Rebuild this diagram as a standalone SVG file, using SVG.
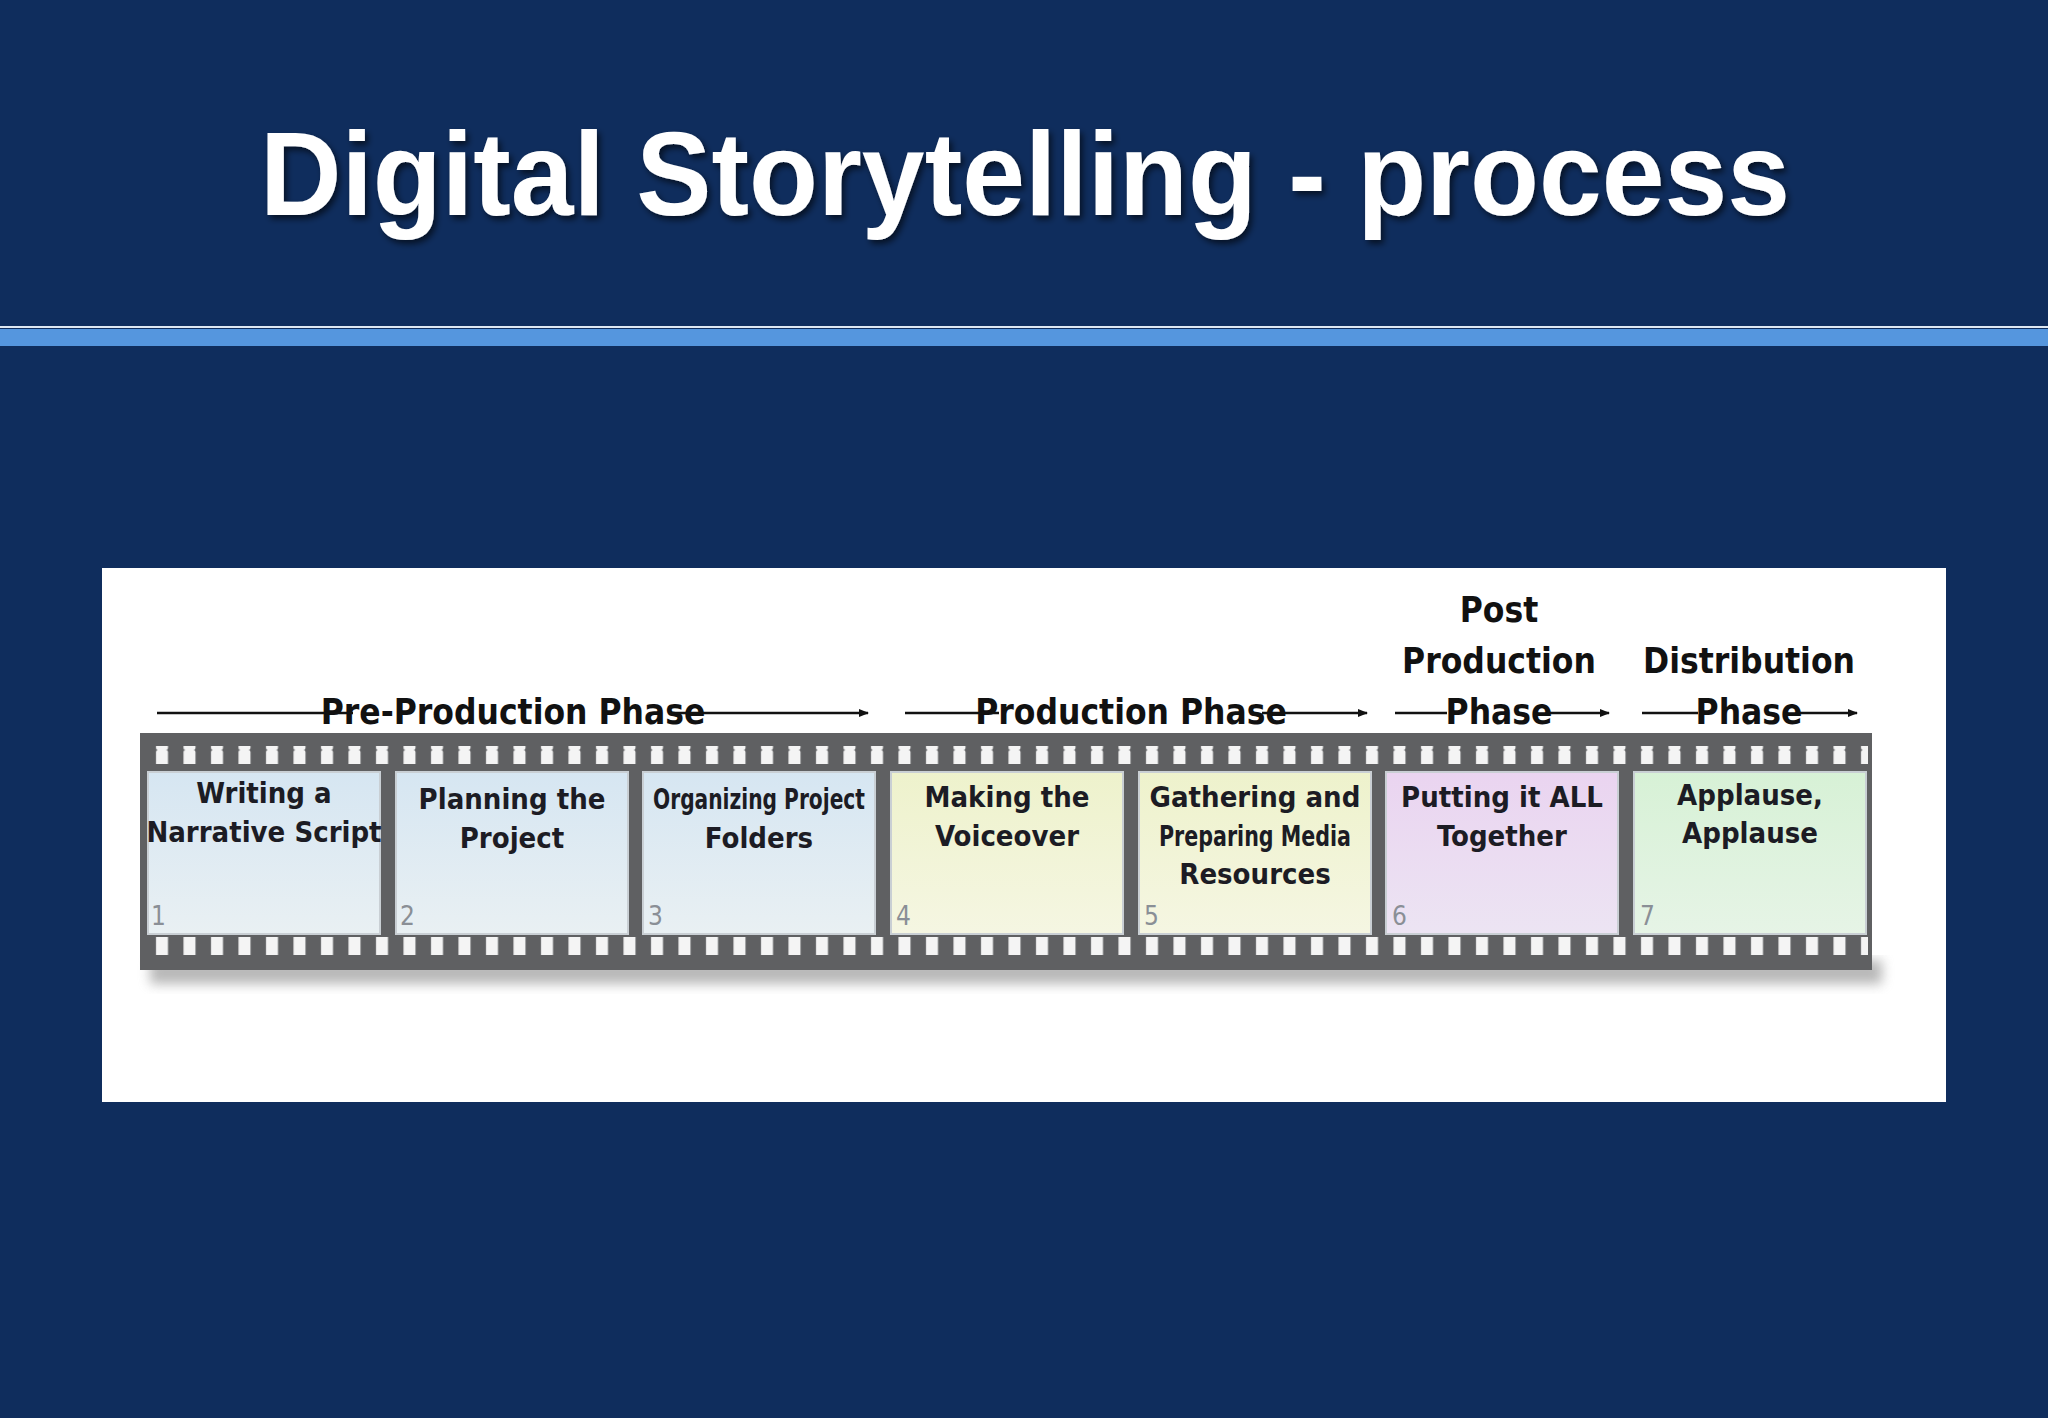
<svg xmlns="http://www.w3.org/2000/svg" width="2048" height="1418" viewBox="0 0 2048 1418">
<defs>
<style>
.t{font-family:"Liberation Sans",Arial,sans-serif;font-weight:bold;fill:#fff}
.c{font-family:"DejaVu Sans Condensed","Liberation Sans Narrow","Liberation Sans",sans-serif;font-weight:bold;fill:#1c1c24;text-anchor:middle;font-size:29px}
.p{font-family:"DejaVu Sans Condensed","Liberation Sans Narrow","Liberation Sans",sans-serif;font-weight:bold;fill:#111;text-anchor:middle;font-size:35px}
.n{font-family:"DejaVu Sans Condensed","Liberation Sans",sans-serif;fill:#8a8f96;font-size:26px}
.ln{stroke:#111;stroke-width:2.5;fill:none}
.fr{stroke:#c9cfd4;stroke-width:2}
</style>
<marker id="ah" markerWidth="10" markerHeight="8" refX="9" refY="4" orient="auto" markerUnits="userSpaceOnUse" viewBox="0 0 10 8">
<path d="M0,0 L10,4 L0,8 z" fill="#111"/>
</marker>
<pattern id="holes" x="148" y="0" width="27.5" height="30" patternUnits="userSpaceOnUse">
<rect x="8" y="0" width="12" height="30" rx="2" fill="#f4f4f4"/>
</pattern>
<linearGradient id="gb" x1="0" y1="0" x2="0" y2="1"><stop offset="0" stop-color="#d6e6f2"/><stop offset="1" stop-color="#e9f0f3"/></linearGradient>
<linearGradient id="gy" x1="0" y1="0" x2="0" y2="1"><stop offset="0" stop-color="#eef2cc"/><stop offset="1" stop-color="#f5f6e2"/></linearGradient>
<linearGradient id="gp" x1="0" y1="0" x2="0" y2="1"><stop offset="0" stop-color="#ead4f0"/><stop offset="1" stop-color="#ece4f3"/></linearGradient>
<linearGradient id="gg" x1="0" y1="0" x2="0" y2="1"><stop offset="0" stop-color="#d7f1d6"/><stop offset="1" stop-color="#e6f4e6"/></linearGradient>
<filter id="sh" x="-5%" y="-20%" width="110%" height="160%"><feGaussianBlur stdDeviation="6"/></filter>
<filter id="ts"><feDropShadow dx="3" dy="4" stdDeviation="3" flood-color="#000" flood-opacity="0.6"/></filter>
</defs>
<rect width="2048" height="1418" fill="#0f2d5d"/>
<text class="t" x="1025" y="215" font-size="118" text-anchor="middle" textLength="1530" lengthAdjust="spacingAndGlyphs" filter="url(#ts)">Digital Storytelling - process</text>
<rect x="0" y="326" width="2048" height="2" fill="#dfe8f2"/>
<rect x="0" y="329" width="2048" height="17" fill="#5596de"/>
<rect x="102" y="568" width="1844" height="534" fill="#fff"/>
<rect x="150" y="960" width="1732" height="24" fill="#8a8a8a" opacity="0.6" filter="url(#sh)"/>
<g id="strip">
<rect x="140" y="733" width="1732" height="237" fill="#5f6062"/>
<rect x="144" y="746" width="1724" height="18" fill="url(#holes)"/>
<rect x="144" y="937" width="1724" height="18" fill="url(#holes)"/>
</g>
<g id="frame1"><rect class="fr" x="148" y="772" width="232" height="162" fill="url(#gb)"/><text class="c" x="264" y="803">Writing a</text><text class="c" x="264" y="842">Narrative Script</text><text class="n" x="151" y="925">1</text></g>
<g id="frame2"><rect class="fr" x="396" y="772" width="232" height="162" fill="url(#gb)"/><text class="c" x="512" y="809">Planning the</text><text class="c" x="512" y="848">Project</text><text class="n" x="400" y="925">2</text></g>
<g id="frame3"><rect class="fr" x="643" y="772" width="232" height="162" fill="url(#gb)"/><text class="c" x="759" y="809" textLength="212" lengthAdjust="spacingAndGlyphs">Organizing Project</text><text class="c" x="759" y="848">Folders</text><text class="n" x="648" y="925">3</text></g>
<g id="frame4"><rect class="fr" x="891" y="772" width="232" height="162" fill="url(#gy)"/><text class="c" x="1007" y="807">Making the</text><text class="c" x="1007" y="846">Voiceover</text><text class="n" x="896" y="925">4</text></g>
<g id="frame5"><rect class="fr" x="1139" y="772" width="232" height="162" fill="url(#gy)"/><text class="c" x="1255" y="807">Gathering and</text><text class="c" x="1255" y="846" textLength="192" lengthAdjust="spacingAndGlyphs">Preparing Media</text><text class="c" x="1255" y="884">Resources</text><text class="n" x="1144" y="925">5</text></g>
<g id="frame6"><rect class="fr" x="1386" y="772" width="232" height="162" fill="url(#gp)"/><text class="c" x="1502" y="807">Putting it ALL</text><text class="c" x="1502" y="846">Together</text><text class="n" x="1392" y="925">6</text></g>
<g id="frame7"><rect class="fr" x="1634" y="772" width="232" height="162" fill="url(#gg)"/><text class="c" x="1750" y="805">Applause,</text><text class="c" x="1750" y="843">Applause</text><text class="n" x="1640" y="925">7</text></g>
<g id="phase-pre"><text class="p" x="513" y="724">Pre-Production Phase</text></g>
<g id="phase-prod"><text class="p" x="1131" y="724">Production Phase</text></g>
<g id="phase-post"><text class="p" x="1499" y="622">Post</text><text class="p" x="1499" y="673">Production</text><text class="p" x="1499" y="724">Phase</text></g>
<g id="phase-dist"><text class="p" x="1749" y="673">Distribution</text><text class="p" x="1749" y="724">Phase</text></g>
<g id="connectors">
<line class="ln" x1="157" y1="713" x2="353" y2="713"/>
<line class="ln" x1="673" y1="713" x2="868" y2="713" marker-end="url(#ah)" style="marker-end:url(#ah)"/>
<line class="ln" x1="905" y1="713" x2="999" y2="713"/>
<line class="ln" x1="1262" y1="713" x2="1367" y2="713" marker-end="url(#ah)"/>
<line class="ln" x1="1395" y1="713" x2="1447" y2="713"/>
<line class="ln" x1="1550" y1="713" x2="1609" y2="713" marker-end="url(#ah)"/>
<line class="ln" x1="1642" y1="713" x2="1698" y2="713"/>
<line class="ln" x1="1800" y1="713" x2="1857" y2="713" marker-end="url(#ah)"/>
</g>
</svg>
